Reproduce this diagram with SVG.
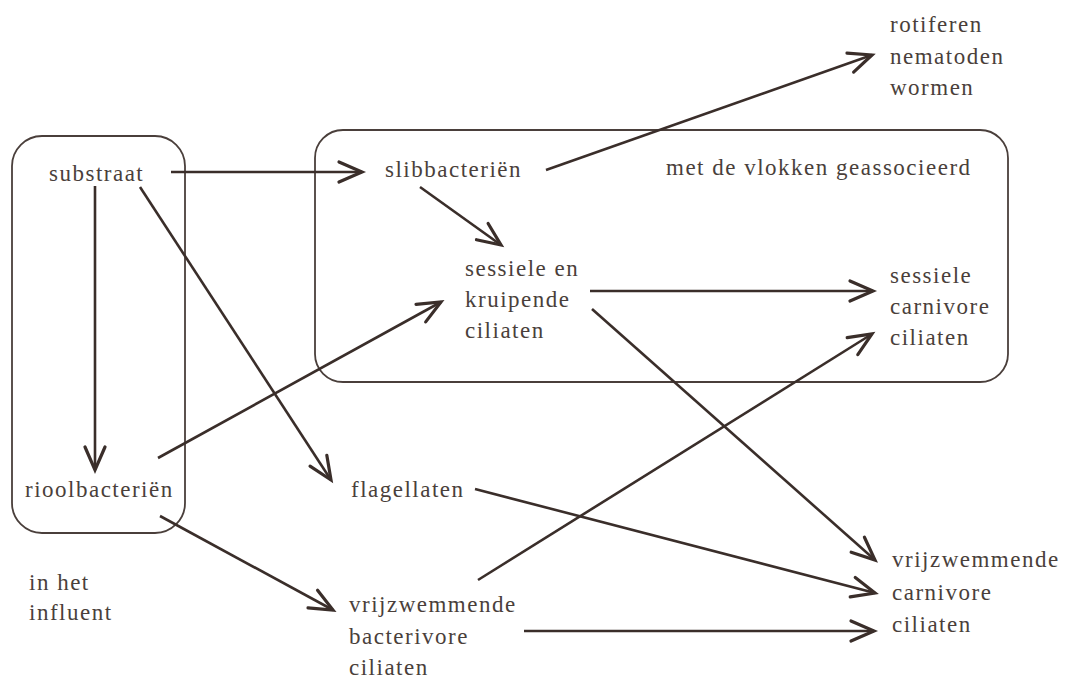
<svg xmlns="http://www.w3.org/2000/svg" width="1067" height="682" viewBox="0 0 1067 682">
<defs>
<style>
.t{font-family:"Liberation Serif","Times New Roman",serif;font-size:23px;letter-spacing:1.5px;fill:#4a3f3b}
.box{fill:none;stroke:#4a3f3b;stroke-width:1.8}
.c{fill:none;stroke:#3a2e2a;stroke-width:2.6;marker-end:url(#ah)}
</style>
<marker id="ah" markerUnits="userSpaceOnUse" markerWidth="30" markerHeight="30" viewBox="-26 -13 30 26" refX="0" refY="0" orient="auto" overflow="visible">
<path d="M-23,-10 L0,0 L-23,10" fill="none" stroke="#3a2e2a" stroke-width="3.2" stroke-linejoin="miter" stroke-linecap="round"/>
</marker>
</defs>
<rect width="1067" height="682" fill="#ffffff"/>
<g id="influent-box"><rect class="box" x="12" y="136" width="173" height="397" rx="30" ry="30"/></g>
<g id="vlokken-box"><rect class="box" x="315" y="130" width="693" height="252" rx="28" ry="28"/></g>
<g id="connectors">
<line class="c" x1="171" y1="172" x2="362" y2="172"/>
<line class="c" x1="95" y1="186" x2="95" y2="470"/>
<line class="c" x1="140" y1="187" x2="331" y2="480"/>
<line class="c" x1="546" y1="170" x2="872" y2="55"/>
<line class="c" x1="420" y1="187" x2="501" y2="245"/>
<line class="c" x1="158" y1="458" x2="441" y2="302"/>
<line class="c" x1="160" y1="516" x2="333" y2="610"/>
<line class="c" x1="590" y1="291" x2="873" y2="291"/>
<line class="c" x1="592" y1="309" x2="875" y2="560"/>
<line class="c" x1="475" y1="489" x2="875" y2="593"/>
<line class="c" x1="478" y1="580" x2="872" y2="334"/>
<line class="c" x1="524" y1="631" x2="874" y2="631"/>
</g>
<g id="substraat"><text class="t" x="49" y="181">substraat</text></g>
<g id="rioolbacterien"><text class="t" x="25" y="497">rioolbacteriën</text></g>
<g id="in-het-influent"><text class="t" x="29" y="590">in het</text><text class="t" x="29" y="620">influent</text></g>
<g id="slibbacterien"><text class="t" x="385" y="177">slibbacteriën</text></g>
<g id="met-de-vlokken"><text class="t" x="666" y="175">met de vlokken geassocieerd</text></g>
<g id="rotiferen"><text class="t" x="890" y="32">rotiferen</text><text class="t" x="890" y="64">nematoden</text><text class="t" x="890" y="95">wormen</text></g>
<g id="sessiele-kruipende"><text class="t" x="465" y="276">sessiele en</text><text class="t" x="465" y="307">kruipende</text><text class="t" x="465" y="338">ciliaten</text></g>
<g id="sessiele-carnivore"><text class="t" x="890" y="283">sessiele</text><text class="t" x="890" y="314">carnivore</text><text class="t" x="890" y="345">ciliaten</text></g>
<g id="flagellaten"><text class="t" x="351" y="497">flagellaten</text></g>
<g id="vrij-bacterivore"><text class="t" x="349" y="612">vrijzwemmende</text><text class="t" x="349" y="644">bacterivore</text><text class="t" x="349" y="675">ciliaten</text></g>
<g id="vrij-carnivore"><text class="t" x="892" y="567">vrijzwemmende</text><text class="t" x="892" y="600">carnivore</text><text class="t" x="892" y="632">ciliaten</text></g>
</svg>
